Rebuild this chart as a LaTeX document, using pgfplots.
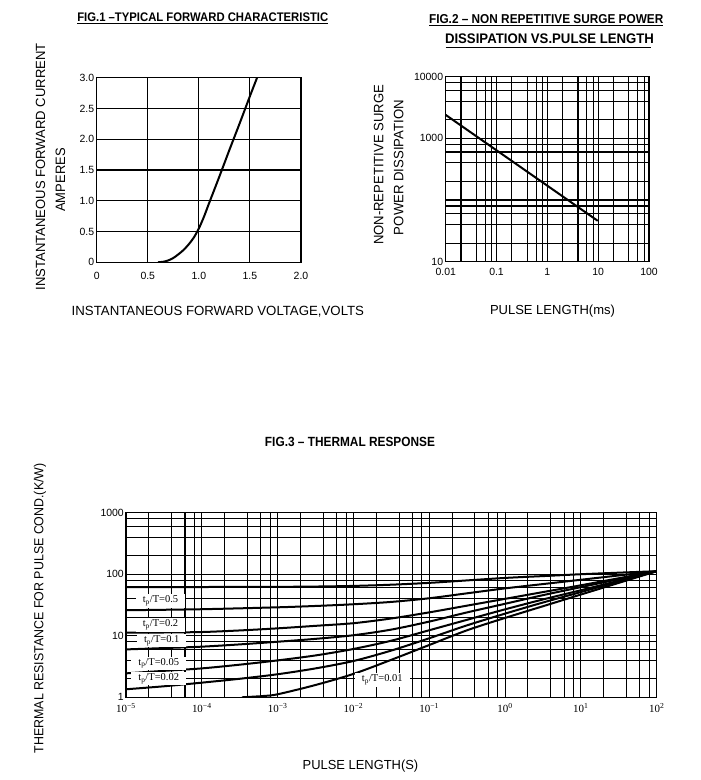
\documentclass[border=0pt]{standalone}
\usepackage{pgfplots}
\pgfplotsset{compat=1.18}
\usepackage{fontspec}
\setmainfont{Liberation Sans}
\newfontfamily\serif{Liberation Serif}
\newcommand\ticks{\fontsize{10.5}{12}\selectfont}
\pgfplotsset{
  dsgrid/.style={
    scale only axis,
    anchor=south west,
    grid=both,
    major tick length=0pt,
    minor tick length=0pt,
    major grid style={black, line width=1.1bp},
    minor grid style={black, line width=1.1bp},
    axis line style={black, line width=1.1bp},
    every axis plot post/.append style={black, solid, line width=2bp, mark=none},
  }
}
\begin{document}
\begin{tikzpicture}[x=1bp,y=1bp]
\useasboundingbox (0,0) rectangle (701,780);

% ---------------- FIG 1 ----------------
\begin{axis}[dsgrid,
  width=204.3bp, height=184.6bp, at={(96.7bp,517.7bp)},
  xmin=0, xmax=2, ymin=0, ymax=3,
  xtick={0,0.5,1,1.5,2}, xticklabels={0,0.5,1.0,1.5,2.0},
  ytick={0,0.5,1,1.5,2,2.5,3}, yticklabels={0,0.5,1.0,1.5,2.0,2.5,3.0},
  xticklabel style={font=\ticks, inner sep=0pt, anchor=north, yshift=-9.4bp},
  yticklabel style={font=\ticks, inner sep=0pt, anchor=east, xshift=-2.4bp},
]
\addplot+[smooth] coordinates {(0.6,0) (0.65,0.008) (0.7,0.03) (0.75,0.07) (0.8,0.13) (0.85,0.2) (0.9,0.29) (0.95,0.4) (1.0,0.55) (1.05,0.74) (1.1,0.96) (1.2,1.39) (1.3,1.83) (1.4,2.26) (1.5,2.7) (1.57,3.0)};
\end{axis}

% ---------------- FIG 2 ----------------
\begin{axis}[dsgrid,
  width=203.3bp, height=185bp, at={(445.7bp,518.3bp)},
  xmode=log, ymode=log,
  xmin=0.01, xmax=100, ymin=10, ymax=10000,
  xtick={0.01,0.1,1,10,100}, xticklabels={0.01,0.1,1,10,100},
  ytick={10,100,1000,10000}, yticklabels={10,,1000,10000},
  minor xtick={0.02,0.04,0.06,0.08,0.2,0.4,0.6,0.8,2,4,6,8,20,40,60,80},
  minor ytick={20,40,60,80,200,400,600,800,2000,4000,6000,8000},
  xticklabel style={font=\ticks, inner sep=0pt, anchor=north, yshift=-6.6bp},
  yticklabel style={font=\ticks, inner sep=0pt, anchor=east, xshift=-2.4bp},
]
\addplot coordinates {(0.01,2400) (9.8,46)};
\end{axis}

% ---------------- FIG 3 ----------------
\begin{axis}[dsgrid,
  width=530.7bp, height=184.6bp, at={(126bp,82.7bp)},
  xmode=log, ymode=log,
  xmin=1e-5, xmax=100, ymin=1, ymax=1000,
  xtick={1e-5,1e-4,1e-3,1e-2,1e-1,1,10,100},
  xticklabels={10\textsuperscript{−5},10\textsuperscript{−4},10\textsuperscript{−3},10\textsuperscript{−2},10\textsuperscript{−1},10\textsuperscript{0},10\textsuperscript{1},10\textsuperscript{2}},
  ytick={1,10,100,1000}, yticklabels={1,10,100,1000},
  minor xtick={2e-5,4e-5,6e-5,8e-5,2e-4,4e-4,6e-4,8e-4,2e-3,4e-3,6e-3,8e-3,0.02,0.04,0.06,0.08,0.2,0.4,0.6,0.8,2,4,6,8,20,40,60,80},
  minor ytick={2,4,6,8,20,40,60,80,200,400,600,800},
  xticklabel style={font=\serif\fontsize{11}{12}\selectfont, inner sep=0pt, anchor=north, yshift=-6.2bp},
  yticklabel style={font=\ticks, inner sep=0pt, anchor=east, xshift=-2bp},
]
% top curve
\addplot+[smooth] coordinates {(1e-5,62) (1e-4,62) (1e-3,62.4) (3.162e-3,63.1) (1e-2,64.6) (3.162e-2,67.6) (1e-1,72.4) (3.162e-1,79.4) (1,87.1) (3.162,93.3) (10,100) (31.62,106) (100,112)};
% tp/T=0.5
\addplot+[smooth] coordinates {(1e-5,26.0) (1e-4,27.0) (1e-3,29.0) (3.162e-3,30.5) (1e-2,32.5) (3.162e-2,35.5) (1e-1,40.7) (3.162e-1,49.0) (1,58.9) (3.162,69.2) (10,81.3) (31.62,95.5) (100,112)};
% tp/T=0.2
\addplot+[smooth] coordinates {(1e-5,11.2) (3.162e-5,11.3) (1e-4,11.5) (3.162e-4,12.2) (1e-3,13.2) (3.162e-3,14.5) (1e-2,16.0) (3.162e-2,19.1) (1e-1,24.0) (3.162e-1,30.9) (1,39.8) (3.162,51.3) (10,66.1) (31.62,86.1) (100,112)};
% tp/T=0.1
\addplot+[smooth] coordinates {(1e-5,6.0) (3.162e-5,6.31) (1e-4,6.65) (3.162e-4,7.24) (1e-3,8.0) (3.162e-3,8.91) (1e-2,10.2) (3.162e-2,12.6) (1e-1,17.0) (3.162e-1,24.0) (1,33.1) (3.162,45.7) (10,61.7) (31.62,83.2) (100,112)};
% tp/T=0.05
\addplot+[smooth] coordinates {(1e-5,2.45) (3.162e-5,2.69) (1e-4,2.95) (3.162e-4,3.39) (1e-3,3.98) (3.162e-3,4.79) (1e-2,6.10) (3.162e-2,8.32) (1e-1,12.3) (3.162e-1,18.2) (1,26.9) (3.162,38.9) (10,55.0) (31.62,78.5) (100,112)};
% tp/T=0.02
\addplot+[smooth] coordinates {(1e-5,1.35) (3.162e-5,1.51) (1e-4,1.73) (3.162e-4,2.0) (1e-3,2.37) (3.162e-3,2.95) (1e-2,3.89) (3.162e-2,5.75) (1e-1,9.12) (3.162e-1,14.8) (1,22.9) (3.162,34.7) (10,51.3) (31.62,75.9) (100,112)};
% tp/T=0.01
\addplot+[smooth] coordinates {(3.39e-4,1.0) (6.3e-4,1.047) (1e-3,1.12) (3.162e-3,1.585) (1e-2,2.40) (3.162e-2,4.07) (1e-1,7.08) (3.162e-1,12.3) (1,19.5) (3.162,30.2) (10,46.8) (31.62,72.4) (100,112)};
\begin{scope}[every node/.style={fill=white, inner xsep=7bp, inner ysep=1.5bp, font=\serif\fontsize{10.5}{12}\selectfont}]
\node at (axis cs:2.85e-5,36.8) {t\textsubscript{p}/T=0.5};
\node at (axis cs:2.85e-5,15.0) {t\textsubscript{p}/T=0.2};
\node at (axis cs:2.96e-5,8.3) {t\textsubscript{p}/T=0.1};
\node at (axis cs:2.70e-5,3.57) {t\textsubscript{p}/T=0.05};
\node at (axis cs:2.70e-5,2.0) {t\textsubscript{p}/T=0.02};
\node at (axis cs:2.4e-2,1.91) {t\textsubscript{p}/T=0.01};
\end{scope}
\end{axis}

% ---------------- TITLES ----------------
\node[anchor=base, inner sep=0] at (202.8,758) {\resizebox{251bp}{8.7bp}{\bfseries FIG.1 –TYPICAL FORWARD CHARACTERISTIC}};
\draw[line width=0.9bp] (77.3,756.4) -- (328.3,756.4);
\node[anchor=base, inner sep=0] at (546.2,756) {\resizebox{234.3bp}{9bp}{\bfseries FIG.2 – NON REPETITIVE SURGE POWER}};
\draw[line width=0.9bp] (429,754.4) -- (663.3,754.4);
\node[anchor=base, inner sep=0] at (549.5,736) {\resizebox{209bp}{9.7bp}{\bfseries DISSIPATION VS.PULSE LENGTH}};
\draw[line width=0.9bp] (445.5,732.4) -- (650.5,732.4);
\node[anchor=base, inner sep=0] at (350,333.3) {\resizebox{170bp}{9.3bp}{\bfseries FIG.3 – THERMAL RESPONSE}};

% ---------------- AXIS LABELS ----------------
\node[anchor=base, inner sep=0] at (217.9,464) {\resizebox{292.3bp}{9.3bp}{INSTANTANEOUS FORWARD VOLTAGE,VOLTS}};
\node[rotate=90, anchor=base, inner sep=0] at (45,613.3) {\resizebox{246.7bp}{9.3bp}{INSTANTANEOUS FORWARD CURRENT}};
\node[rotate=90, anchor=base, inner sep=0] at (65,600) {\resizebox{63.3bp}{9.5bp}{AMPERES}};
\node[rotate=90, anchor=base, inner sep=0] at (383.3,615) {\resizebox{160bp}{9.5bp}{NON-REPETITIVE SURGE}};
\node[rotate=90, anchor=base, inner sep=0] at (403.3,612.5) {\resizebox{135bp}{9.5bp}{POWER DISSIPATION}};
\node[anchor=base, inner sep=0] at (552.5,465) {\resizebox{125bp}{9.5bp}{PULSE LENGTH(ms)}};
\node[rotate=90, anchor=base, inner sep=0] at (43.3,171.7) {\resizebox{290bp}{9.5bp}{THERMAL RESISTANCE FOR PULSE COND.(K/W)}};
\node[anchor=base, inner sep=0] at (360.5,10) {\resizebox{115.6bp}{9.5bp}{PULSE LENGTH(S)}};
\end{tikzpicture}
\end{document}
